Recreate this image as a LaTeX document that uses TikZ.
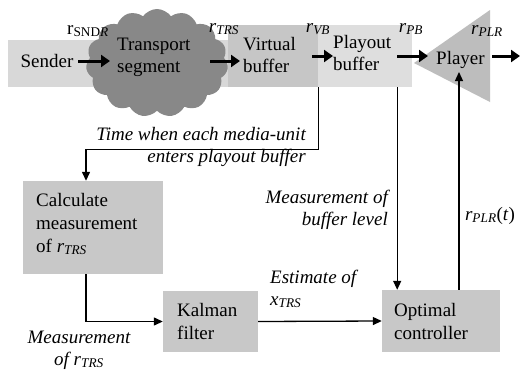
\documentclass[tikz,border=0pt]{standalone}
\usepackage{fontspec}
\setmainfont{Liberation Serif}
\usetikzlibrary{shapes.symbols,arrows.meta}
\definecolor{bandgray}{HTML}{D8D8D8}
\definecolor{vbgray}{HTML}{C6C6C6}
\definecolor{pbgray}{HTML}{DEDEDE}
\definecolor{cloudgray}{HTML}{888888}
\definecolor{plrgray}{HTML}{BDBDBD}
\definecolor{boxgray}{HTML}{C8C8C8}
\newcommand{\rsub}[1]{\textit{r}\textsubscript{\textit{#1}}}
\begin{document}
\begin{tikzpicture}[x=1pt,y=-1pt,
  txt/.style={font=\fontsize{19}{22}\selectfont, inner sep=0pt},
  itl/.style={font=\fontsize{19}{22}\selectfont\itshape, inner sep=0pt},
  fatarr/.style={line width=3pt, -{Triangle[length=9pt,width=12pt]}},
  thinarr/.style={line width=1.3pt, -{Triangle[length=9pt,width=8pt]}}]
\useasboundingbox (0,0) rectangle (520,370);
\fill[white] (0,0) rectangle (520,370);
% top row blocks
\node[fill=bandgray, inner sep=0pt, minimum width=220pt, minimum height=47pt] (band) at (118,63.5) {};
\node[fill=vbgray, inner sep=0pt, minimum width=90pt, minimum height=62pt] (vb) at (273,56) {};
\node[fill=pbgray, inner sep=0pt, minimum width=94pt, minimum height=62pt] (pb) at (365,56) {};
\node[cloud, cloud puffs=15, cloud puff arc=110, fill=cloudgray, inner sep=0pt, minimum width=142pt, minimum height=108pt] (cloud) at (157,63) {};
\fill[plrgray] (414,63) -- (490,10) -- (490,102) -- cycle;
\coordinate (plrtip) at (459,72);
% texts top
\node[txt, anchor=base] (sender) at (47,67) {Sender};
\node[txt, anchor=base west] (transport) at (117,50) {Transport};
\node[txt, anchor=base west] at (117,72) {segment};
\node[txt, anchor=base west] (virtual) at (243,50) {Virtual};
\node[txt, anchor=base west] at (243,72) {buffer};
\node[txt, anchor=base west] (playout) at (333,48) {Playout};
\node[txt, anchor=base west] at (333,70) {buffer};
\node[txt, anchor=base west] (player) at (436,64) {Player};
\coordinate (out) at (520,56);
% rate labels
\node[txt, anchor=base] at (88,34) {r\textsubscript{SND\textit{R}}};
\node[txt, anchor=base] at (224,32) {\rsub{TRS}};
\node[txt, anchor=base] at (318,32) {\rsub{VB}};
\node[txt, anchor=base] at (411,32) {\rsub{PB}};
\node[txt, anchor=base] at (487,34) {\rsub{PLR}};
% top arrows
\draw[fatarr] (78,61) -- (110,61);
\draw[fatarr] (210,61) -- (240,61);
\draw[fatarr] (312,56) -- (333,56);
\draw[fatarr] (397,56) -- (428,56);
\draw[fatarr] (492,56) -- (out);
% lower boxes
\node[fill=boxgray, inner sep=0pt, minimum width=140pt, minimum height=93pt] (calc) at (93,227.5) {};
\node[txt, anchor=base west] at (36,206) {Calculate};
\node[txt, anchor=base west] at (36,229) {measurement};
\node[txt, anchor=base west] at (36,252) {of \rsub{TRS}};
\node[fill=boxgray, inner sep=0pt, minimum width=95pt, minimum height=61pt] (kalman) at (210.5,321.5) {};
\node[txt, anchor=base west] at (177,316) {Kalman};
\node[txt, anchor=base west] at (177,339) {filter};
\node[fill=boxgray, inner sep=0pt, minimum width=118pt, minimum height=62pt] (opt) at (441,321) {};
\node[txt, anchor=base west] at (394,316) {Optimal};
\node[txt, anchor=base west] at (394,339) {controller};
% connectors
\coordinate (vbfoot) at (vb.south east);
\coordinate (calctop) at ([xshift=-7pt]calc.north);
\draw[thinarr] (vbfoot) -- ++(0,62) -| (calctop);
\coordinate (calcfoot) at ([xshift=-7pt]calc.south);
\draw[thinarr] (calcfoot) |- (kalman.west);
\draw[thinarr] (kalman.east) -- (opt.west);
\coordinate (pbfoot) at ([xshift=-15pt]pb.south east);
\draw[thinarr] (pbfoot) -- (pbfoot |- opt.north);
\coordinate (optout) at ([xshift=18pt]opt.north);
\draw[thinarr] (optout) -- (optout |- plrtip);
% italic labels
\node[itl, anchor=base east] at (306,140) {Time when each media-unit};
\node[itl, anchor=base east] at (306,162) {enters playout buffer};
\node[itl, anchor=base east] at (388,203) {Measurement of};
\node[itl, anchor=base east] at (388,225) {buffer level};
\node[itl, anchor=base west] at (270,283) {Estimate of};
\node[itl, anchor=base west] at (270,305) {\textit{x}\textsubscript{\textit{TRS}}};
\node[itl, anchor=base] at (79,343) {Measurement};
\node[itl, anchor=base] at (79,365) {of \rsub{TRS}};
\node[txt, anchor=base] at (490,220) {\rsub{PLR}(\textit{t})};
\end{tikzpicture}
\end{document}
